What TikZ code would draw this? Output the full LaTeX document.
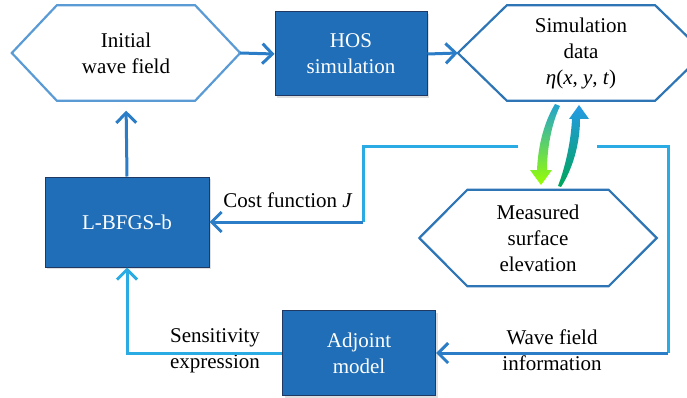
\documentclass[tikz,border=0pt]{standalone}
\usepackage{fontspec}
\setmainfont{Liberation Serif}
\usetikzlibrary{arrows.meta,shadows}
\definecolor{boxblue}{HTML}{1F6EB7}
\definecolor{boxedge}{HTML}{203864}
\definecolor{lineblue}{HTML}{2A7DC6}
\definecolor{cyanline}{HTML}{2AABE4}
\definecolor{hexlight}{HTML}{5B9BD5}
\definecolor{hexdark}{HTML}{2E75B6}
\tikzstyle{procbox}=[rectangle,draw=boxedge,fill=boxblue,text=white,align=center,line width=1pt,drop shadow={opacity=0.25,shadow xshift=2pt,shadow yshift=-2pt}]
\tikzstyle{hexnode}=[align=center,inner sep=0]
\tikzstyle{flow}=[line width=3pt,->,>={Straight Barb[length=10pt,width=20pt]}]
\tikzstyle{bracket}=[line width=3pt,cyanline]
\newcommand{\hexa}[3]{\draw[#3,line width=2.2pt,line join=miter] (#1.west) -- ([xshift=#2]#1.north west) -- ([xshift=-#2]#1.north east) -- (#1.east) -- ([xshift=-#2]#1.south east) -- ([xshift=#2]#1.south west) -- cycle;}
\begin{document}
\begin{tikzpicture}[x=1pt,y=-1pt,font=\fontsize{21}{26}\selectfont]
\useasboundingbox (0,0) rectangle (687,398);
\clip (0,0) rectangle (687,398);

\node[hexnode,minimum width=228,minimum height=95] (init) at (126,53) {Initial\\wave field};
\hexa{init}{45}{hexlight}
\node[procbox,minimum width=152,minimum height=84] (hos) at (351,54) {HOS\\simulation};
\node[hexnode,minimum width=246,minimum height=95] (sim) at (581,53) {Simulation\\data\\{\itshape η}(\textit{x}, \textit{y}, \textit{t})};
\hexa{sim}{49}{hexdark}
\node[procbox,minimum width=164,minimum height=90] (lbfgs) at (127,222) {L-BFGS-b};
\node[hexnode,minimum width=237,minimum height=96] (meas) at (538,238) {Measured\\surface\\elevation};
\hexa{meas}{48}{hexdark}
\node[procbox,minimum width=153,minimum height=85] (adj) at (359,353) {Adjoint\\model};

\node (costlbl) at (288,200) {Cost function \textit{J}};
\node[align=center] (senslbl) at (215,351) {Sensitivity\\expression};
\node[align=center] (wavelbl) at (552,350) {Wave field\\information};

\coordinate (gapl) at (518,147);
\coordinate (gapr) at (597,147);
\coordinate (cornerl) at (363,147);
\coordinate (cornerr) at (668,147);

\draw[flow,lineblue] (init.east) -- (hos.west);
\draw[flow,lineblue] (hos.east) -- (sim.west);
\draw[flow,lineblue,shorten >=10pt] (lbfgs.north) -- (init.south);
\draw[flow,cyanline] (adj.west) -| (lbfgs.south);
\draw[bracket] (gapl) -- (cornerl) -- (cornerl |- lbfgs.east);
\draw[flow,lineblue] (cornerl |- lbfgs.east) -- (lbfgs.east);
\draw[bracket] (gapr) -- (cornerr) -- (cornerr |- adj.east);
\draw[flow,lineblue] (cornerr |- adj.east) -- (adj.east);

\shade[top color=cyanline!80!teal,bottom color=yellow!60!green] (560,106) .. controls (551,125) and (547,150) .. (547,170) -- (552,170) -- (541,185) -- (530,170) -- (537,170) .. controls (538,148) and (543,124) .. (555,104) -- cycle;
\shade[top color=cyanline!90!blue,bottom color=teal!70!green] (558,186) .. controls (566,165) and (571,140) .. (572,119) -- (569,119) -- (579,105) -- (589,119) -- (580,119) .. controls (580,145) and (572,170) .. (561,187) -- cycle;
\end{tikzpicture}
\end{document}
